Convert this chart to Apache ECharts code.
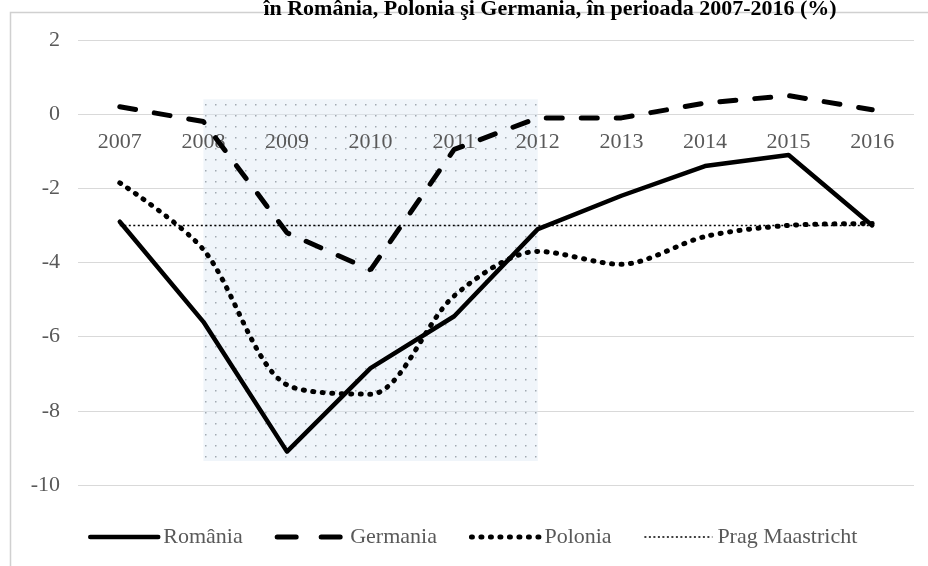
<!DOCTYPE html>
<html>
<head>
<meta charset="utf-8">
<script src="https://cdn.jsdelivr.net/npm/echarts@6/dist/echarts.min.js"></script>
<style>
html,body{margin:0;padding:0;background:#fff;}
#c{width:928px;height:566px;}
</style>
</head>
<body>
<div id="c"></div>
<script>
const titleText = 'în România, Polonia şi Germania, în perioada 2007-2016 (%)';
const years = ['2007','2008','2009','2010','2011','2012','2013','2014','2015','2016'];
const romania = [-2.9, -5.6, -9.1, -6.85, -5.45, -3.1, -2.2, -1.4, -1.1, -3.0];
const germania = [0.2, -0.2, -3.2, -4.2, -0.95, -0.1, -0.1, 0.3, 0.5, 0.12];
const polonia = [-1.85, -3.65, -7.3, -7.55, -4.9, -3.7, -4.05, -3.3, -3.0, -2.95];
const prag = [-3, -3, -3, -3, -3, -3, -3, -3, -3, -3];
const shadeX = ['2008', '2012'];
const shadeY = [0.4, -9.35];
const yTicks = {min: -10, max: 2, interval: 2};
const legendNames = ['România', 'Germania', 'Polonia', 'Prag Maastricht'];

const serif = '"Liberation Serif", "DejaVu Serif", serif';
const grey = '#595959';

// dotted pattern for shaded recession area
const pc = document.createElement('canvas');
pc.width = 10; pc.height = 11;
const pctx = pc.getContext('2d');
pctx.fillStyle = 'rgba(222,233,243,0.45)';
pctx.fillRect(0,0,10,11);
pctx.fillStyle = 'rgba(110,120,130,0.6)';
pctx.fillRect(5,5,1.5,1.5);

const chart = echarts.init(document.getElementById('c'), null, {renderer:'canvas'});
chart.setOption({
  backgroundColor: '#fff',
  animation: false,
  title: {
    text: titleText,
    left: 545, textAlign: 'center', top: -7,
    textStyle: {fontFamily: serif, fontWeight: 'bold', fontSize: 22, color: '#000'}
  },
  graphic: [{
    type: 'rect', shape: {x: 10.5, y: 12.5, width: 930, height: 600},
    style: {fill: 'none', stroke: '#d0d0d0', lineWidth: 1.5}, silent: true, z: -10
  }],
  grid: {left: 78, right: 14, top: 40, bottom: 81},
  legend: {
    bottom: 13, left: 83,
    itemWidth: 68, itemHeight: 14, itemGap: 32,
    itemStyle: {opacity: 0, color: 'rgba(0,0,0,0)', borderColor: 'rgba(0,0,0,0)', borderWidth: 0},
    lineStyle: {width: 'inherit', type: 'inherit', cap: 'inherit'},
    textStyle: {fontFamily: serif, fontSize: 22, color: grey},
    data: [
      legendNames[0],
      {name: legendNames[1], lineStyle: {type: [19, 25]}},
      legendNames[2],
      legendNames[3]
    ]
  },
  xAxis: {
    type: 'category', data: years, boundaryGap: true,
    position: 'bottom', offset: -371, z: 10,
    axisLine: {show: false, onZero: false},
    axisTick: {show: false},
    axisLabel: {fontFamily: serif, fontSize: 22, color: grey, margin: 17}
  },
  yAxis: {
    type: 'value', min: yTicks.min, max: yTicks.max, interval: yTicks.interval,
    axisLine: {show: false}, axisTick: {show: false},
    splitLine: {lineStyle: {color: '#d9d9d9', width: 1}},
    axisLabel: {fontFamily: serif, fontSize: 22, color: grey, margin: 18}
  },
  series: [
    {
      name: 'România', type: 'line', data: romania, symbol: 'none',
      lineStyle: {color: '#000', width: 4.5, cap: 'round', join: 'round'},
      itemStyle: {color: '#000'}, z: 5,
      markArea: {
        silent: true,
        itemStyle: {color: {image: pc, repeat: 'repeat'}},
        data: [[{xAxis: shadeX[0], yAxis: shadeY[0]}, {xAxis: shadeX[1], yAxis: shadeY[1]}]]
      }
    },
    {
      name: 'Germania', type: 'line', data: germania, symbol: 'none',
      lineStyle: {color: '#000', width: 5, type: [16, 19], cap: 'round'},
      itemStyle: {color: '#000'}, z: 12
    },
    {
      name: 'Polonia', type: 'line', data: polonia, symbol: 'none', smooth: 0.3,
      lineStyle: {color: '#000', width: 5, type: [1, 8.5], cap: 'round'},
      itemStyle: {color: '#000'}, z: 3
    },
    {
      name: 'Prag Maastricht', type: 'line', data: prag, symbol: 'none',
      lineStyle: {color: '#000', width: 1.5, type: [2, 2.5]},
      itemStyle: {color: '#000'}, z: 2
    }
  ]
});
</script>
</body>
</html>
